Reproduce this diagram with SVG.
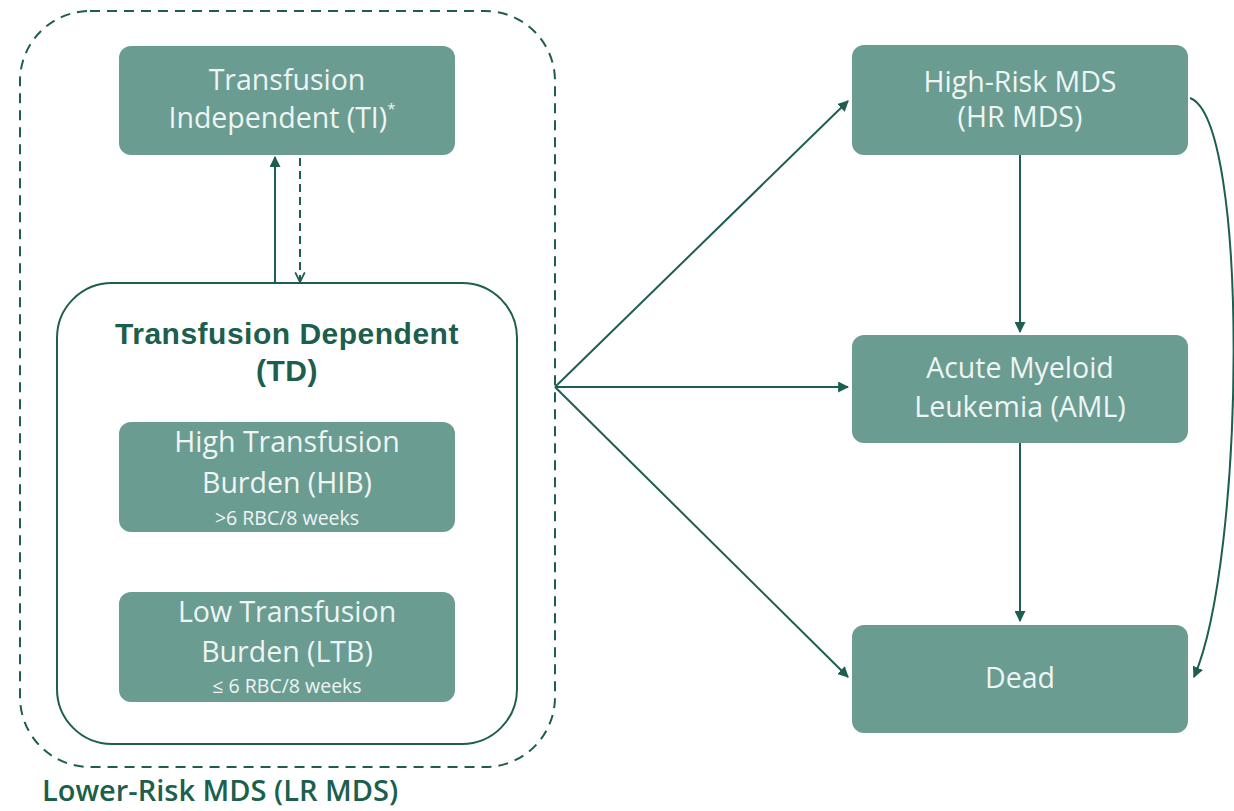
<svg xmlns="http://www.w3.org/2000/svg" width="1234" height="811" viewBox="0 0 1234 811">
<style>
.box{fill:#6a9c92;}
.bt{fill:#eef5f2;font-family:"Open Sans","Liberation Sans",sans-serif;font-size:28.5px;text-anchor:middle;}
.small{font-size:19.5px;}
.ln{stroke:#1d5e50;stroke-width:2;fill:none;}
.title{fill:#1b5f4c;font-family:"Liberation Sans",Arial,sans-serif;font-weight:bold;font-size:30px;text-anchor:middle;letter-spacing:0.5px;}
.grp{fill:#1b5f4c;font-family:"Open Sans","Liberation Sans",sans-serif;font-weight:600;font-size:29px;}
</style>
<defs>
<marker id="ah" viewBox="0 0 10 10" refX="9" refY="5" markerWidth="5.5" markerHeight="5.5" orient="auto" markerUnits="strokeWidth">
<path d="M0,0 L10,5 L0,10 z" fill="#1d5e50"/>
</marker>
<marker id="ao" viewBox="0 0 10 10" refX="9" refY="5" markerWidth="6" markerHeight="6" orient="auto" markerUnits="strokeWidth">
<path d="M1,1 L9,5 L1,9" fill="none" stroke="#1d5e50" stroke-width="1.5"/>
</marker>
</defs>
<rect width="1234" height="811" fill="#ffffff"/>

<g id="lr-mds">
<rect x="20" y="11" width="535" height="756" rx="70" ry="70" fill="none" stroke="#1d5e50" stroke-width="2" stroke-dasharray="10 7"/>
<text class="grp" x="42" y="801">Lower-Risk MDS (LR MDS)</text>
</g>

<g id="td">
<rect x="57" y="283" width="460" height="461" rx="55" ry="55" fill="#ffffff" stroke="#1d5e50" stroke-width="2"/>
<text class="title" x="287" y="344">Transfusion Dependent</text>
<text class="title" x="287" y="381">(TD)</text>
</g>

<g id="ti">
<rect class="box" x="119" y="46" width="336" height="109" rx="12"/>
<text class="bt" x="287" y="90">Transfusion</text>
<text class="bt" x="282" y="128">Independent (TI)<tspan font-size="15px" dy="-14">*</tspan></text>
</g>

<g id="hib">
<rect class="box" x="119" y="422" width="336" height="110" rx="12"/>
<text class="bt" x="287" y="452">High Transfusion</text>
<text class="bt" x="287" y="493">Burden (HIB)</text>
<text class="bt small" x="287" y="525">&gt;6 RBC/8 weeks</text>
</g>

<g id="ltb">
<rect class="box" x="119" y="592" width="336" height="110" rx="12"/>
<text class="bt" x="287" y="622">Low Transfusion</text>
<text class="bt" x="287" y="662">Burden (LTB)</text>
<text class="bt small" x="287" y="693">≤ 6 RBC/8 weeks</text>
</g>

<g id="hr-mds">
<rect class="box" x="852" y="45" width="336" height="110" rx="12"/>
<text class="bt" x="1020" y="92">High-Risk MDS</text>
<text class="bt" x="1020" y="127">(HR MDS)</text>
</g>

<g id="aml">
<rect class="box" x="852" y="335" width="336" height="108" rx="12"/>
<text class="bt" x="1020" y="378">Acute Myeloid</text>
<text class="bt" x="1020" y="417">Leukemia (AML)</text>
</g>

<g id="dead">
<rect class="box" x="852" y="625" width="336" height="108" rx="12"/>
<text class="bt" x="1020" y="688">Dead</text>
</g>

<g id="connectors">
<line class="ln" x1="275" y1="283" x2="275" y2="157" marker-end="url(#ah)"/>
<line class="ln" x1="300" y1="158" x2="300" y2="282" stroke-dasharray="8 5" marker-end="url(#ao)"/>
<line class="ln" x1="555" y1="387" x2="848" y2="101" marker-end="url(#ah)"/>
<line class="ln" x1="555" y1="387" x2="848" y2="387" marker-end="url(#ah)"/>
<line class="ln" x1="555" y1="387" x2="848" y2="677" marker-end="url(#ah)"/>
<line class="ln" x1="1020" y1="155" x2="1020" y2="332" marker-end="url(#ah)"/>
<line class="ln" x1="1020" y1="443" x2="1020" y2="621" marker-end="url(#ah)"/>
<path class="ln" d="M1190,98 C1250,120 1245,560 1194,677" marker-end="url(#ah)"/>
</g>
</svg>
